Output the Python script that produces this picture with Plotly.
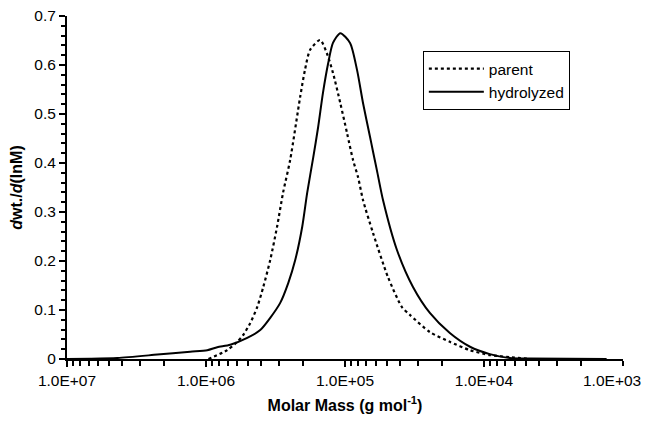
import plotly.graph_objects as go

# Parent (dotted)
parent_M = [9.6e5, 7.03e5, 5.96e5, 5.40e5, 4.81e5, 4.28e5, 3.87e5, 3.45e5, 3.08e5, 2.79e5,
            2.48e5, 2.10e5, 1.94e5, 1.78e5, 1.51e5, 1.35e5, 1.22e5, 1.08e5, 9.66e4, 8.75e4,
            8.05e4, 7.41e4, 6.28e4, 4.90e4, 3.89e4, 3.41e4, 2.45e4, 1.76e4, 1.26e4, 9.08e3,
            6.52e3, 4.68e3]
parent_y = [0.0, 0.018, 0.035, 0.049, 0.073, 0.106, 0.147, 0.202, 0.270, 0.339,
            0.406, 0.535, 0.590, 0.631, 0.651, 0.624, 0.584, 0.522, 0.461, 0.406,
            0.371, 0.324, 0.257, 0.167, 0.106, 0.090, 0.055, 0.035, 0.018, 0.008,
            0.004, 0.0]

# Hydrolyzed (solid)
hydro_M = [1.0e7, 6.78e6, 4.34e6, 2.24e6, 1.30e6, 9.79e5, 8.30e5, 6.69e5, 5.05e5, 4.07e5,
           3.45e5, 2.93e5, 2.56e5, 2.28e5, 2.03e5, 1.87e5, 1.69e5, 1.56e5, 1.44e5, 1.32e5,
           1.22e5, 1.08e5, 9.19e4, 8.19e4, 7.41e4, 6.60e4, 6.28e4, 5.88e4, 5.32e4, 4.22e4,
           3.24e4, 2.45e4, 1.76e4, 1.26e4, 9.08e3, 6.52e3, 4.68e3, 1.31e3]
hydro_y = [0.0, 0.0005, 0.002, 0.009, 0.015, 0.018, 0.024, 0.029, 0.043, 0.059,
           0.084, 0.114, 0.155, 0.202, 0.270, 0.339, 0.412, 0.473, 0.543, 0.604,
           0.645, 0.665, 0.645, 0.590, 0.522, 0.453, 0.423, 0.384, 0.324, 0.222,
           0.147, 0.094, 0.053, 0.025, 0.010, 0.002, 0.001, 0.0]

x_tickvals = [1e7, 1e6, 1e5, 1e4, 1e3]
x_ticktext = ["1.0E+07", "1.0E+06", "1.0E+05", "1.0E+04", "1.0E+03"]
x_minor = [m * 10 ** e for e in range(3, 7) for m in range(2, 10)]

font = "Liberation Sans, Arial, sans-serif"

fig = go.Figure()
fig.add_trace(go.Scatter(x=parent_M, y=parent_y, mode="lines", name="parent",
                         line=dict(color="black", width=2.2, dash="3px,3px", shape="spline", smoothing=0.7)))
fig.add_trace(go.Scatter(x=hydro_M, y=hydro_y, mode="lines", name="hydrolyzed",
                         line=dict(color="black", width=2, shape="spline", smoothing=0.7)))

# the last tick label sits at the right edge; draw it as an annotation nudged inward
fig.add_annotation(x=3, y=0, xref="x", yref="y", text=x_ticktext[-1], showarrow=False,
                   xanchor="center", yanchor="middle", xshift=-11, yshift=-21,
                   font=dict(family=font, size=15.5, color="black"))

# the page body adds an 8px margin; keep the figure inside the window to avoid scrollbars
fig.update_layout(
    width=636, height=406,
    margin=dict(l=59, r=21, t=8, b=55, autoexpand=False),
    paper_bgcolor="white", plot_bgcolor="white",
    font=dict(family=font, size=15.5, color="black"),
    showlegend=True,
    legend=dict(x=0.64, y=0.898, xanchor="left", yanchor="top",
                bordercolor="black", borderwidth=1, bgcolor="white",
                font=dict(size=15.5), itemwidth=55),
    yaxis2=dict(overlaying="y", range=[0, 0.7], dtick=0.1, tick0=0, ticks="inside",
                ticklen=5, tickwidth=2, tickcolor="black", showticklabels=False,
                showgrid=False, zeroline=False, showline=False, automargin=False),
)
fig.update_xaxes(
    type="log", range=[7.0, 2.9995], automargin=False, ticklabeloverflow="allow",
    tickmode="array", tickvals=x_tickvals[:-1], ticktext=x_ticktext[:-1],
    ticks="outside", ticklen=6, tickwidth=2, tickcolor="black",
    minor=dict(tickmode="array", tickvals=x_minor + [x_tickvals[-1]], ticks="outside",
               ticklen=5, tickwidth=2, tickcolor="black"),
    showline=True, linecolor="black", linewidth=2, showgrid=False, zeroline=False,
    title=dict(text="<b>Molar Mass (g mol<sup>-1</sup>)</b>", font=dict(size=16), standoff=14),
)
fig.update_yaxes(
    selector=dict(overlaying=None),
    range=[0, 0.7], dtick=0.1, tick0=0, automargin=False, ticklabeloverflow="allow",
    ticks="outside", ticklen=6, tickwidth=2, tickcolor="black",
    minor=dict(dtick=0.02, ticks="outside", ticklen=4, tickwidth=2, tickcolor="black"),
    showline=True, linecolor="black", linewidth=2, showgrid=False, zeroline=False,
    title=dict(text="<b><i>d</i>wt./<i>d</i>(lnM)</b>", font=dict(size=16), standoff=8),
)

fig.write_html("out.html")
